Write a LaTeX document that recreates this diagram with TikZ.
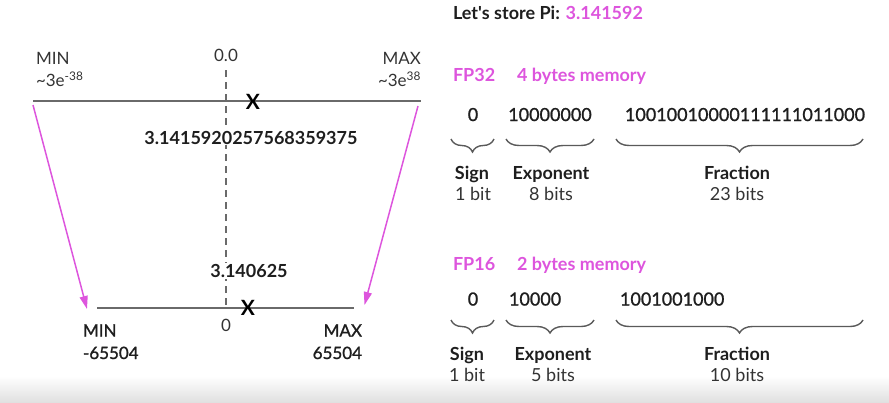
\documentclass[tikz,border=0pt]{standalone}
\usepackage{fontspec}
\setmainfont{Lato}
\newfontfamily\latomed[FakeBold=1.2]{Lato}
\usetikzlibrary{arrows.meta,decorations.pathreplacing}
\definecolor{mag}{HTML}{DD55DD}
\definecolor{axis}{HTML}{6A6A6A}
\definecolor{txtgray}{HTML}{333333}
\definecolor{txtdark}{HTML}{1E1E1E}
\definecolor{bracegray}{HTML}{5A5A5A}
\tikzset{
  lbl/.style={inner sep=0pt, outer sep=0pt, text=txtgray, font=\fontsize{17}{20}\selectfont},
  lblmed/.style={inner sep=0pt, outer sep=0pt, text=txtdark, font=\latomed\fontsize{17}{20}\selectfont},
  num/.style={inner sep=1pt, outer sep=0pt, fill=white, text=txtdark, font=\bfseries\fontsize{18}{21}\selectfont},
  head/.style={inner sep=0pt, outer sep=0pt, text=txtdark, font=\bfseries\fontsize{18}{21}\selectfont},
  maghead/.style={inner sep=0pt, outer sep=0pt, text=mag, font=\bfseries\fontsize{18}{21}\selectfont},
  bits/.style={inner sep=0pt, outer sep=0pt, text=txtdark, font=\latomed\fontsize{18}{21}\selectfont},
  fld/.style={inner sep=0pt, outer sep=0pt, text=txtdark, font=\bfseries\fontsize{18}{21}\selectfont},
  fldsub/.style={inner sep=0pt, outer sep=0pt, text=txtgray, font=\fontsize{18}{21}\selectfont},
  xmark/.style={inner sep=0pt, outer sep=0pt, text=black, font=\bfseries\fontsize{21}{24}\selectfont},
  axisline/.style={draw=axis, line width=2.2pt},
  zeroline/.style={draw=axis, line width=1.8pt, dash pattern=on 7pt off 5pt},
  magarrow/.style={draw=mag, line width=1.5pt, -{Triangle[length=13pt,width=8pt]}},
  bitbrace/.style={draw=bracegray, line width=1.4pt, decorate, decoration={brace, mirror, amplitude=13pt}}
}
\begin{document}
\begin{tikzpicture}[x=1pt,y=-1pt]
\useasboundingbox (0,0) rectangle (889,402);
\shade[top color=white, bottom color=black!12] (0,376) rectangle (889,402);

% ---------- left: number lines ----------
\coordinate (t1) at (33,101);
\coordinate (t2) at (421,101);
\coordinate (b1) at (97,308);
\coordinate (b2) at (354,308);
\coordinate (d1) at (226,70);
\coordinate (d2) at (226,308);
\draw[zeroline] (d1) -- (d2);
\draw[axisline] (t1) -- (t2);
\draw[axisline] (b1) -- (b2);

\node[lbl, anchor=base west] (minA) at (36,64) {MIN};
\node[lbl, anchor=base west] (minAv) at (36,86.5) {\textasciitilde 3e\textsuperscript{-38}};
\node[lbl, anchor=base east] (maxA) at (421,64) {MAX};
\node[lbl, anchor=base east] (maxAv) at (421,86.5) {\textasciitilde 3e\textsuperscript{38}};
\node[lbl, anchor=base] (zeroA) at (226,61.5) {0.0};

\node[num, anchor=base] (pi32) at (251,144) {3.1415920257568359375};
\node[num, anchor=base] (pi16) at (249,277.5) {3.140625};

\node[xmark] (xA) at (253,102) {X};
\node[xmark] (xB) at (248,308) {X};

\node[lbl, anchor=base] (zeroB) at (226,331.5) {0};
\node[lblmed, anchor=base west] (minB) at (83,336.5) {MIN};
\node[lblmed, anchor=base west] (minBv) at (83,359) {-65504};
\node[lblmed, anchor=base east] (maxB) at (362,336.5) {MAX};
\node[lblmed, anchor=base east] (maxBv) at (362,359) {65504};

\coordinate (la1) at (33,105);
\coordinate (la2) at (87,309);
\coordinate (ra1) at (418,106);
\coordinate (ra2) at (364.5,305);
\draw[magarrow] (la1) -- (la2);
\draw[magarrow] (ra1) -- (ra2);

% ---------- right: bit layouts ----------
\node[head, anchor=base west] (title) at (453,19.5) {Let\textquotesingle s store Pi: \textcolor{mag}{3.141592}};

\node[maghead, anchor=base west] (fp32) at (453,81) {FP32};
\node[maghead, anchor=base west] (fp32m) at (517,81) {4 bytes memory};
\node[bits, anchor=base] (s32) at (473,121) {0};
\node[bits, anchor=base] (e32) at (550,121) {10000000};
\node[bits, anchor=base] (f32) at (745,121) {10010010000111111011000};

\coordinate (bs1) at (451,139);  \coordinate (bs2) at (494,139);
\coordinate (be1) at (506,139);  \coordinate (be2) at (594,139);
\coordinate (bf1) at (616,139);  \coordinate (bf2) at (863,139);
\draw[bitbrace] (bs1) -- (bs2);
\draw[bitbrace] (be1) -- (be2);
\draw[bitbrace] (bf1) -- (bf2);

\node[fld, anchor=base] (sg32) at (472,179) {Sign};
\node[fldsub, anchor=base] (sg32b) at (473,200) {1 bit};
\node[fld, anchor=base] (ex32) at (551,179) {Exponent};
\node[fldsub, anchor=base] (ex32b) at (551,200) {8 bits};
\node[fld, anchor=base] (fr32) at (737,179) {Fraction};
\node[fldsub, anchor=base] (fr32b) at (737,200) {23 bits};

\node[maghead, anchor=base west] (fp16) at (453,270.5) {FP16};
\node[maghead, anchor=base west] (fp16m) at (517,270.5) {2 bytes memory};
\node[bits, anchor=base] (s16) at (473,305.5) {0};
\node[bits, anchor=base west] (e16) at (509,305.5) {10000};
\node[bits, anchor=base west] (f16) at (620,305.5) {1001001000};

\coordinate (cs1) at (451,320);  \coordinate (cs2) at (494,320);
\coordinate (ce1) at (506,320);  \coordinate (ce2) at (594,320);
\coordinate (cf1) at (616,320);  \coordinate (cf2) at (863,320);
\draw[bitbrace] (cs1) -- (cs2);
\draw[bitbrace] (ce1) -- (ce2);
\draw[bitbrace] (cf1) -- (cf2);

\node[fld, anchor=base] (sg16) at (467,360) {Sign};
\node[fldsub, anchor=base] (sg16b) at (467,381.5) {1 bit};
\node[fld, anchor=base] (ex16) at (553,360) {Exponent};
\node[fldsub, anchor=base] (ex16b) at (553,381.5) {5 bits};
\node[fld, anchor=base] (fr16) at (737,360) {Fraction};
\node[fldsub, anchor=base] (fr16b) at (737,381.5) {10 bits};
\end{tikzpicture}
\end{document}
